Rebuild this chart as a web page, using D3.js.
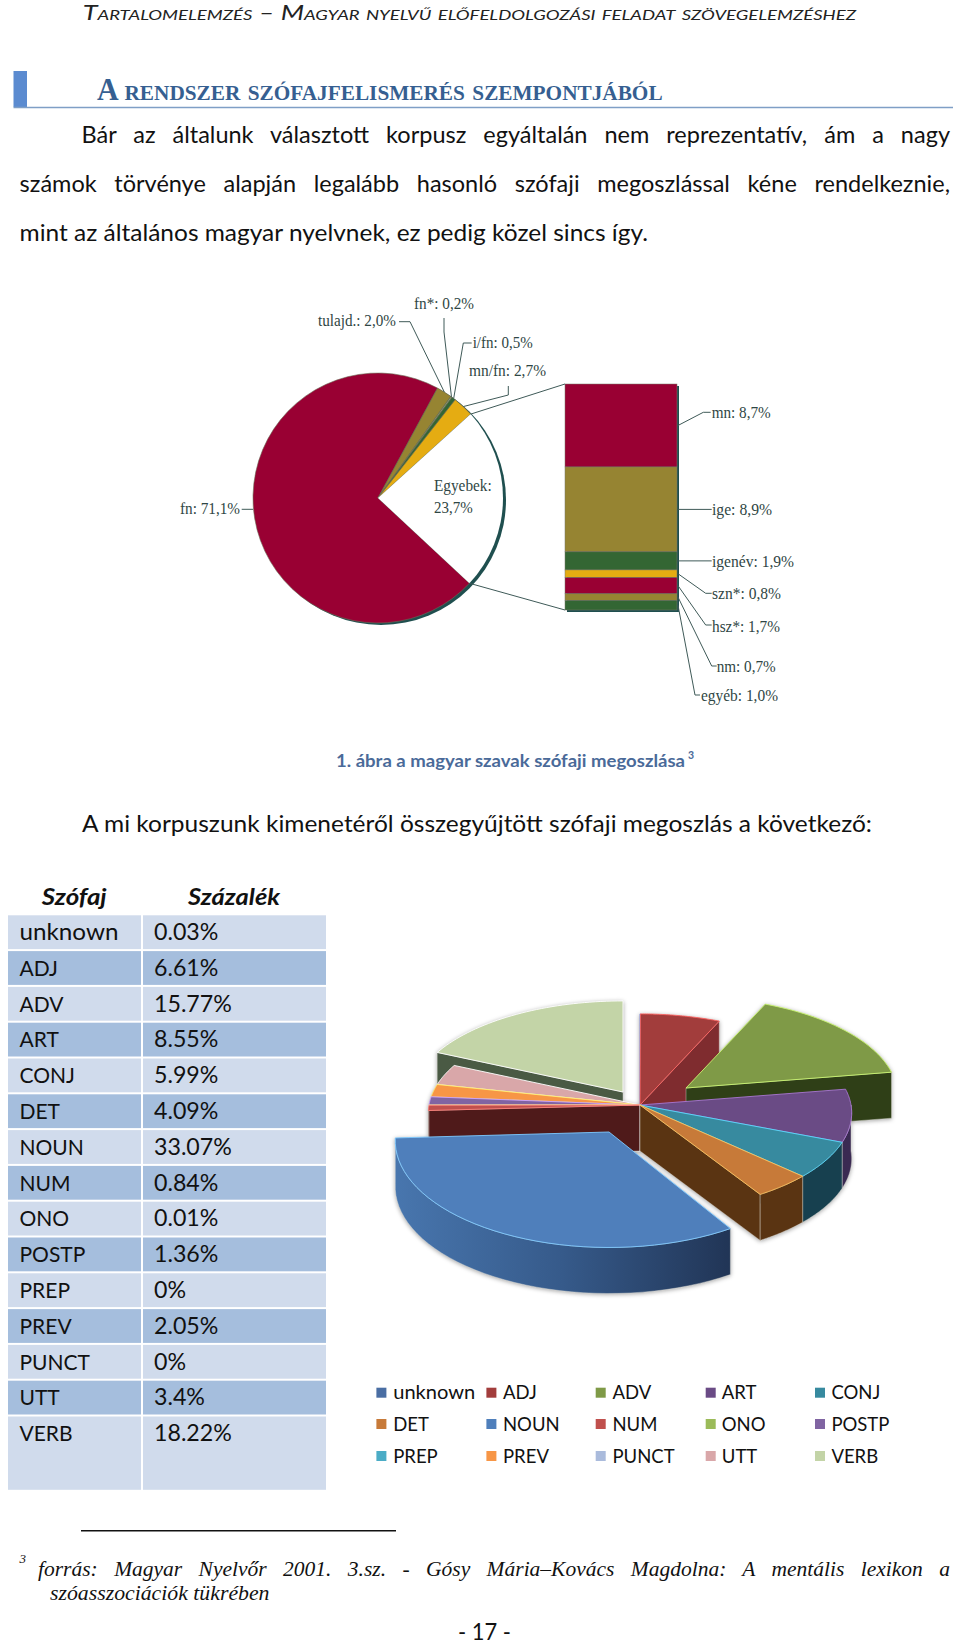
<!DOCTYPE html>
<html lang="hu">
<head>
<meta charset="utf-8">
<title>Szófaji megoszlás</title>
<script src="https://cdnjs.cloudflare.com/ajax/libs/d3/7.8.5/d3.min.js"></script>
<style>
  body { margin: 0; background: #fff; }
  svg { display: block; }
</style>
</head>
<body>
<svg id="page" width="960" height="1645"></svg>
<script>
// top pie: values of the left pie and the stacked column
const topNames = ['fn', 'tulajd', 'fn*', 'i/fn', 'mn/fn', 'Egyebek'];
const topValues = [71.1, 2.0, 0.2, 0.5, 2.7, 23.7];
const topColors = ['#990033', '#968432', '#8f9a6a', '#336633', '#e5ac12', '#ffffff'];
const stackNames = ['mn', 'ige', 'igenév', 'szn*', 'hsz*', 'nm', 'egyéb'];
const stackValues = [8.7, 8.9, 1.9, 0.8, 1.7, 0.7, 1.0];
const stackColors = ['#990033', '#968432', '#336633', '#e5ac12', '#990033', '#968432', '#336633'];

// our corpus
const posNames = ['unknown', 'ADJ', 'ADV', 'ART', 'CONJ', 'DET', 'NOUN', 'NUM', 'ONO', 'POSTP', 'PREP', 'PREV', 'PUNCT', 'UTT', 'VERB'];
const posValues = [0.03, 6.61, 15.77, 8.55, 5.99, 4.09, 33.07, 0.84, 0.01, 1.36, 0, 2.05, 0, 3.4, 18.22];
const posColors = ['#4a6ea3', '#a23d3c', '#7f9a47', '#6a4b85', '#378a9f', '#c77a39', '#4f7fbb', '#c0504d', '#9bbb59', '#8064a2', '#4bacc6', '#f79646', '#aabbdc', '#d9a7a9', '#c3d4a7'];
const posShades = ['#2f4565', '#7f2c2f', '#2f3f17', '#3a2a52', '#17404f', '#5a3412', '#2f4f7a', '#4f1a1a', '#5a6e32', '#4a3a60', '#2a6a7a', '#a0601f', '#6a7890', '#8a6668', '#4a5a44'];

const headerText = 'Tartalomelemzés – Magyar nyelvű előfeldolgozási feladat szövegelemzéshez';
const bodyLines = [
  'Bár az általunk választott korpusz egyáltalán nem reprezentatív, ám a nagy',
  'számok törvénye alapján legalább hasonló szófaji megoszlással kéne rendelkeznie,',
  'mint az általános magyar nyelvnek, ez pedig közel sincs így.'
];

const svg = d3.select('#page');
const sans = 'Lato, "Open Sans", sans-serif';
const serif = '"Liberation Serif", serif';

// text helpers
function put(str, x, y, size, family) {
  return svg.append('text').attr('x', x).attr('y', y).attr('font-size', size)
    .attr('font-family', family).attr('fill', '#111').text(str);
}
function justify(sel, x0, x1) {
  const natural = sel.node().getComputedTextLength();
  const gaps = sel.text().split(' ').length - 1;
  sel.attr('word-spacing', (x1 - x0 - natural) / gaps);
  return sel;
}
function fit(sel, x0, x1) {
  return sel.attr('textLength', x1 - x0).attr('lengthAdjust', 'spacingAndGlyphs');
}

// page head
fit(put(headerText, 82.7, 20.3, 20.5, sans).attr('font-style', 'italic')
  .style('font-variant', 'small-caps').attr('fill', '#222'), 82.7, 856);
svg.append('rect').attr('x', 13.5).attr('y', 71).attr('width', 13.5).attr('height', 36).attr('fill', '#5b8bd0');
svg.append('line').attr('x1', 13.5).attr('x2', 953).attr('y1', 107.5).attr('y2', 107.5)
  .attr('stroke', '#7f9fc6').attr('stroke-width', 1.5);
fit(put('A rendszer szófajfelismerés szempontjából', 97, 100, 31, serif).attr('font-weight', 'bold')
  .style('font-variant', 'small-caps').attr('fill', '#365f91'), 97, 662.6);

justify(put(bodyLines[0], 81.5, 143, 23.5, sans), 81.5, 950);
justify(put(bodyLines[1], 19.6, 192, 23.5, sans), 19.6, 950);
fit(put(bodyLines[2], 19.6, 240.7, 23.5, sans), 19.6, 648);

// top pie
const topCx = 378, topCy = 498, topR = 125;
const startRad = 133 * Math.PI / 180;
const topArcs = d3.pie().sort(null).startAngle(startRad).endAngle(startRad + 2 * Math.PI)(topValues);
const arc = d3.arc().innerRadius(0).outerRadius(topR);
const topG = svg.append('g').attr('transform', `translate(${topCx},${topCy})`);
topG.append('circle').attr('cx', 3).attr('cy', 2).attr('r', topR).attr('fill', '#1f4f4f');
topG.selectAll('path').data(topArcs).join('path')
  .attr('d', arc)
  .attr('fill', (d, i) => topColors[i])
  .attr('stroke', (d, i) => i === 5 ? 'none' : '#6b6b55')
  .attr('stroke-width', 0.6);

// stacked column
const stackY = d3.scaleLinear().domain([0, d3.sum(stackValues)]).range([384, 610]);
const colX0 = 565, colX1 = 677;
const stackTops = d3.cumsum([0].concat(stackValues));
svg.append('rect').attr('x', colX0 + 2).attr('y', stackY(0) + 2).attr('width', colX1 - colX0)
  .attr('height', stackY.range()[1] - stackY.range()[0]).attr('fill', '#1f4f4f');
svg.selectAll('rect.seg').data(stackValues).join('rect').attr('class', 'seg')
  .attr('x', colX0).attr('width', colX1 - colX0)
  .attr('y', (d, i) => stackY(stackTops[i]))
  .attr('height', (d, i) => stackY(stackTops[i + 1]) - stackY(stackTops[i]))
  .attr('fill', (d, i) => stackColors[i])
  .attr('stroke', '#77776a').attr('stroke-width', 0.5);

// leader lines, start computed from the pie and the column
const edgePoint = a => [topCx + topR * Math.sin(a), topCy - topR * Math.cos(a)];
const midOf = d => (d.startAngle + d.endAngle) / 2;
const stackMid = i => [colX1 + 1, stackY((stackTops[i] + stackTops[i + 1]) / 2)];
const leaderLine = d3.line();
const leaders = [
  { text: 'tulajd.: 2,0%', x: 318, y: 325.7, w: 78, from: edgePoint(midOf(topArcs[1])), via: [[410, 321.7], [399, 321.7]] },
  { text: 'fn*: 0,2%', x: 414, y: 309, w: 60, from: edgePoint(midOf(topArcs[2])), via: [[444, 332], [444, 318]] },
  { text: 'i/fn: 0,5%', x: 472.7, y: 347.7, w: 60, from: edgePoint(midOf(topArcs[3])), via: [[463.3, 343], [471.7, 343]] },
  { text: 'mn/fn: 2,7%', x: 469, y: 376, w: 77, from: edgePoint(midOf(topArcs[4])), via: [[508.3, 395], [508.3, 386]] },
  { text: 'fn: 71,1%', x: 180, y: 514, w: 60, from: [topCx - topR, 509.3], via: [[241.7, 509.3]] },
  { text: 'mn: 8,7%', x: 711.7, y: 418, w: 59, from: stackMid(0), via: [[703.3, 412.3], [710.7, 412.3]] },
  { text: 'ige: 8,9%', x: 712, y: 515, w: 60, from: stackMid(1), via: [[711.7, stackMid(1)[1]]] },
  { text: 'igenév: 1,9%', x: 712, y: 566.7, w: 82, from: stackMid(2), via: [[711.7, stackMid(2)[1]]] },
  { text: 'szn*: 0,8%', x: 712, y: 599, w: 69, from: stackMid(3), via: [[705.7, 593.3], [711.7, 593.3]] },
  { text: 'hsz*: 1,7%', x: 712, y: 631.7, w: 68, from: stackMid(4), via: [[705.7, 625], [711.7, 625]] },
  { text: 'nm: 0,7%', x: 716.7, y: 671.7, w: 59, from: stackMid(5), via: [[711.7, 666], [716.7, 666]] },
  { text: 'egyéb: 1,0%', x: 701, y: 700.7, w: 77, from: stackMid(6), via: [[695, 695], [700, 695]] }
];
const leaderG = svg.append('g').attr('fill', 'none').attr('stroke', '#3f5a58').attr('stroke-width', 1);
leaderG.selectAll('path').data(leaders).join('path').attr('d', d => leaderLine([d.from].concat(d.via)));
leaderG.append('path').attr('d', leaderLine([edgePoint(topArcs[5].startAngle), [colX0, stackY(0)]]));
leaderG.append('path').attr('d', leaderLine([edgePoint(topArcs[5].endAngle), [colX0, stackY.range()[1]]]));
leaders.forEach(d => {
  fit(put(d.text, d.x, d.y, 16, serif).attr('fill', '#2f4644'), d.x, d.x + d.w);
});
fit(put('Egyebek:', 434, 490.7, 16, serif).attr('fill', '#2f4644'), 434, 491.7);
fit(put('23,7%', 434, 512.7, 16, serif).attr('fill', '#2f4644'), 434, 472.7);

// caption
fit(put('1. ábra a magyar szavak szófaji megoszlása', 336, 767, 16.5, sans).attr('font-weight', 'bold')
  .attr('fill', '#4a6a99'), 336, 685);
put('3', 688, 759, 10.5, sans).attr('font-weight', 'bold').attr('fill', '#4a6a99');
fit(put('A mi korpuszunk kimenetéről összegyűjtött szófaji megoszlás a következő:', 82, 831.7, 23.5, sans), 82, 872);

// table
const rowY = d3.scaleLinear().domain([0, 1]).range([915.3, 951.1]);
const rowBg = i => i % 2 === 0 ? '#d0dbec' : '#a5bedd';
const rowH = i => i === posNames.length - 1 ? 73.3 : 33.8;
const table = svg.append('g');
[[8, 133], [143, 183]].forEach(([x, w]) => {
  table.append('g').selectAll('rect').data(posNames).join('rect')
    .attr('x', x).attr('width', w)
    .attr('y', (d, i) => rowY(i)).attr('height', (d, i) => rowH(i))
    .attr('fill', (d, i) => rowBg(i));
});
table.append('g').selectAll('text').data(posNames).join('text')
  .attr('x', 19.5).attr('y', (d, i) => rowY(i) + 24.7)
  .attr('font-size', 21).attr('font-family', sans).attr('fill', '#111').text(d => d)
  .filter(d => d === 'unknown').attr('textLength', 99).attr('lengthAdjust', 'spacingAndGlyphs').attr('font-size', 23.5);
table.append('g').selectAll('text').data(posValues).join('text')
  .attr('x', 154).attr('y', (d, i) => rowY(i) + 24.7)
  .attr('font-size', 23.2).attr('font-family', sans).attr('fill', '#111').text(d => d + '%');
fit(put('Szófaj', 41.7, 905, 23, sans).attr('font-weight', 'bold').attr('font-style', 'italic'), 41.7, 106.7);
fit(put('Százalék', 188, 905, 23, sans).attr('font-weight', 'bold').attr('font-style', 'italic'), 188, 280);

// exploded 3D pie
const pieCx = 640, pieCy = 1105, pieRx = 211, pieRy = 99, pieDepth = 46, persp = 0.08;
// offset x, offset y, stretch x, stretch y
const explode = { ADV: [46, -17, 1, 1], NOUN: [-31, 27, 1.01, 1.08], VERB: [-17, -13, 1, 1] };
const paintOrder = ['VERB', 'unknown', 'ADJ', 'ADV', 'UTT', 'PREV', 'POSTP', 'ONO', 'NUM', 'ART', 'CONJ', 'DET', 'NOUN'];
const posColor = d3.scaleOrdinal(posNames, posColors);
const posShade = d3.scaleOrdinal(posNames, posShades);
const slices = d3.pie().sort(null)(posValues)
  .map((d, i) => ({ name: posNames[i], a0: d.startAngle, a1: d.endAngle, value: d.value }))
  .filter(d => d.value > 0);

const defs = svg.append('defs');
const grad = defs.append('linearGradient').attr('id', 'nounSide');
grad.append('stop').attr('offset', '0%').attr('stop-color', '#4876ae');
grad.append('stop').attr('offset', '50%').attr('stop-color', '#365a8a');
grad.append('stop').attr('offset', '100%').attr('stop-color', '#213556');

function project(a, o) {
  const u = Math.sin(a), v = -Math.cos(a), w = 1 + persp * v;
  return [pieCx + o[0] + pieRx * o[2] * u * w, pieCy + o[1] + pieRy * o[3] * v * w];
}
const down = p => [p[0], p[1] + pieDepth];
const poly = d3.line();
const pieG = svg.append('g').style('filter', 'drop-shadow(0 1px 2px rgba(0,0,0,0.35))');
const HALF = Math.PI / 2;

paintOrder.forEach(name => {
  const s = slices.find(d => d.name === name);
  if (!s) return;
  const o = explode[name] || [0, 0, 1, 1];
  const apex = [pieCx + o[0], pieCy + o[1]];
  const g = pieG.append('g');
  const edge = 'rgba(235,235,225,0.55)';
  const shade = posShade(name);
  // cut faces that look towards us
  if (-Math.cos(s.a0 - HALF) > 0) {
    const p = project(s.a0, o);
    g.append('path').attr('d', poly([apex, p, down(p), down(apex)]) + 'Z').attr('fill', shade).attr('stroke', edge).attr('stroke-width', 0.7);
  }
  if (-Math.cos(s.a1 + HALF) > 0) {
    const p = project(s.a1, o);
    g.append('path').attr('d', poly([apex, p, down(p), down(apex)]) + 'Z').attr('fill', shade).attr('stroke', edge).attr('stroke-width', 0.7);
  }
  // rim
  const from = Math.max(s.a0, HALF), to = Math.min(s.a1, 3 * HALF);
  if (to > from) {
    const rim = d3.range(0, 41).map(i => project(from + (to - from) * i / 40, o));
    g.append('path').attr('d', poly(rim.concat(rim.map(down).reverse())) + 'Z')
      .attr('fill', name === 'NOUN' ? 'url(#nounSide)' : shade)
      .attr('stroke', edge).attr('stroke-width', 0.7);
  }
  // top face
  const top = d3.range(0, 41).map(i => project(s.a0 + (s.a1 - s.a0) * i / 40, o));
  g.append('path').attr('d', poly([apex].concat(top)) + 'Z')
    .attr('fill', posColor(name))
    .attr('stroke', d3.color(posColor(name)).brighter(1.3)).attr('stroke-width', 0.9);
});

// legend
const legendCols = [[376.4, 393.2], [486.4, 503], [595.7, 612.5], [705.7, 721.8], [815, 831.4]];
const legendRows = [1392.7, 1424, 1456];
const legend = svg.append('g').selectAll('g').data(posNames).join('g')
  .attr('transform', (d, i) => `translate(0,${legendRows[Math.floor(i / 5)]})`);
legend.append('rect')
  .attr('x', (d, i) => legendCols[i % 5][0]).attr('y', -5).attr('width', 10).attr('height', 10)
  .attr('fill', d => posColor(d));
legend.append('text')
  .attr('x', (d, i) => legendCols[i % 5][1]).attr('y', 6.5)
  .attr('font-size', 18.5).attr('font-family', sans).attr('fill', '#111').text(d => d)
  .filter(d => d === 'unknown').attr('textLength', 82).attr('lengthAdjust', 'spacingAndGlyphs').attr('font-size', 20);

// footnote
svg.append('line').attr('x1', 81).attr('x2', 396).attr('y1', 1530.7).attr('y2', 1530.7).attr('stroke', '#111').attr('stroke-width', 1.5);
put('3', 19.6, 1563, 13, serif).attr('font-style', 'italic');
justify(put('forrás: Magyar Nyelvőr 2001. 3.sz. - Gósy Mária–Kovács Magdolna: A mentális lexikon a', 38, 1576, 21.5, serif).attr('font-style', 'italic'), 38, 950);
fit(put('szóasszociációk tükrében', 50, 1600, 21.5, serif).attr('font-style', 'italic'), 50, 269.5);
fit(put('- 17 -', 458, 1640, 23, sans), 458, 511);
</script>
</body>
</html>
